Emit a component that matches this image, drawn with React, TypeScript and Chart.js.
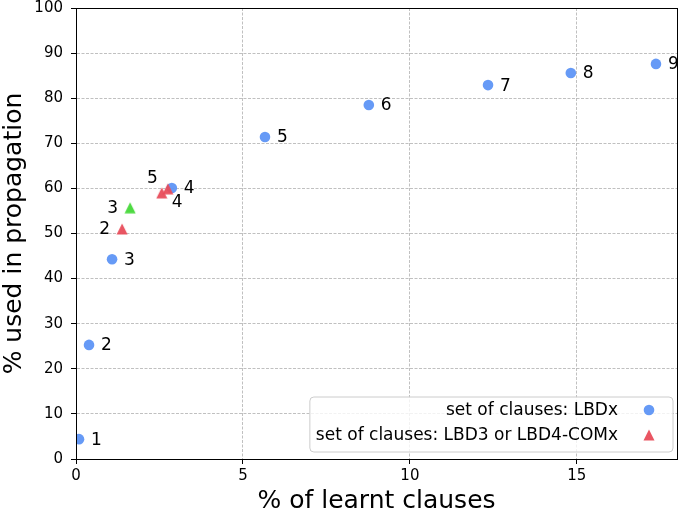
import React, { useEffect, useRef } from "react";
import { Chart, registerables } from "chart.js";

Chart.register(...registerables);

// ---- data ----
const lbdX = [0.09, 0.39, 1.08, 2.87, 5.66, 8.77, 12.34, 14.82, 17.37];
const lbdY = [4.4, 25.3, 44.3, 60.1, 71.4, 78.5, 82.9, 85.6, 87.6];
const lbdLabels = ["1", "2", "3", "4", "5", "6", "7", "8", "9"];

const comX = [1.38, 2.57, 2.75];
const comY = [51.0, 59.0, 59.9];
const comLabels = ["2", "5", "4"];

const lbd3X = [1.62];
const lbd3Y = [55.7];
const lbd3Labels = ["3"];

const xTicks = [0, 5, 10, 15];
const yTicks = [0, 10, 20, 30, 40, 50, 60, 70, 80, 90, 100];

const legendLbd = "set of clauses: LBDx";
const legendCom = "set of clauses: LBD3 or LBD4-COMx";
const xTitle = "% of learnt clauses";
const yTitle = "% used in propagation";

// ---- styles ----
const BLUE = "rgba(94,149,245,0.95)";
const RED = "rgba(232,76,90,0.95)";
const GREEN = "rgba(68,216,56,0.95)";
const FONT = "'DejaVu Sans', sans-serif";

const placements: Record<string, string[]> = {
  lbd: ["right", "right", "right", "right", "right", "right", "right", "right", "right"],
  com: ["left", "upleft", "downright"],
  lbd3: ["left"],
};

function triangleCanvas(color: string, size: number) {
  const c = document.createElement("canvas");
  c.width = size;
  c.height = size;
  const ctx = c.getContext("2d")!;
  ctx.fillStyle = color;
  ctx.beginPath();
  ctx.moveTo(size / 2, 0.5);
  ctx.lineTo(size - 0.5, size - 0.5);
  ctx.lineTo(0.5, size - 0.5);
  ctx.closePath();
  ctx.fill();
  return c;
}

const pointLabelPlugin = {
  id: "pointLabels",
  afterDatasetsDraw(chart: any) {
    const ctx = chart.ctx;
    ctx.save();
    ctx.font = `17px ${FONT}`;
    ctx.fillStyle = "#000";
    ctx.textBaseline = "middle";
    chart.data.datasets.forEach((ds: any, di: number) => {
      const meta = chart.getDatasetMeta(di);
      const pl = placements[ds.key] || [];
      (ds.pointLabels || []).forEach((t: string, i: number) => {
        const el = meta.data[i];
        if (!el) return;
        const p = pl[i] || "right";
        let dx = 12, dy = 1, align: CanvasTextAlign = "left";
        if (p === "left") { dx = -12; align = "right"; }
        else if (p === "upleft") { dx = -4; dy = -14; align = "right"; }
        else if (p === "downright") { dx = 4; dy = 14; align = "left"; }
        ctx.textAlign = align;
        ctx.fillText(t, el.x + dx, el.y + dy);
      });
    });
    ctx.restore();
  },
};

const framePlugin = {
  id: "frameAndLegend",
  afterDraw(chart: any) {
    const ctx = chart.ctx;
    const a = chart.chartArea;
    ctx.save();
    // frame
    ctx.strokeStyle = "#000";
    ctx.lineWidth = 1;
    ctx.strokeRect(Math.round(a.left) + 0.5, Math.round(a.top) + 0.5, Math.round(a.right - a.left), Math.round(a.bottom - a.top));

    // legend
    ctx.font = `17px ${FONT}`;
    const w = Math.max(ctx.measureText(legendLbd).width, ctx.measureText(legendCom).width);
    const boxW = 6 + w + 55;
    const boxH = 55;
    const right = a.right - 4;
    const bottom = a.bottom - 7;
    const left = right - boxW;
    const top = bottom - boxH;
    const r = 4;
    ctx.beginPath();
    ctx.moveTo(left + r, top);
    ctx.lineTo(right - r, top);
    ctx.arcTo(right, top, right, top + r, r);
    ctx.lineTo(right, bottom - r);
    ctx.arcTo(right, bottom, right - r, bottom, r);
    ctx.lineTo(left + r, bottom);
    ctx.arcTo(left, bottom, left, bottom - r, r);
    ctx.lineTo(left, top + r);
    ctx.arcTo(left, top, left + r, top, r);
    ctx.closePath();
    ctx.fillStyle = "rgba(255,255,255,0.8)";
    ctx.fill();
    ctx.strokeStyle = "#cccccc";
    ctx.lineWidth = 1;
    ctx.stroke();

    const textRight = right - 55;
    const markerX = right - 24;
    const row1 = top + 13;
    const row2 = top + 38;
    ctx.fillStyle = "#000";
    ctx.textAlign = "right";
    ctx.textBaseline = "middle";
    ctx.fillText(legendLbd, textRight, row1 + 1);
    ctx.fillText(legendCom, textRight, row2 + 1);
    ctx.fillStyle = BLUE;
    ctx.beginPath();
    ctx.arc(markerX, row1, 5.3, 0, Math.PI * 2);
    ctx.fill();
    ctx.fillStyle = RED;
    ctx.beginPath();
    ctx.moveTo(markerX, row2 - 5.5);
    ctx.lineTo(markerX + 5.5, row2 + 5.5);
    ctx.lineTo(markerX - 5.5, row2 + 5.5);
    ctx.closePath();
    ctx.fill();
    ctx.restore();
  },
};

export default function App() {
  const ref = useRef<HTMLCanvasElement | null>(null);

  useEffect(() => {
    if (!ref.current) return;
    const redTri = triangleCanvas(RED, 12);
    const greenTri = triangleCanvas(GREEN, 12);
    const toPts = (xs: number[], ys: number[]) => xs.map((x, i) => ({ x, y: ys[i] }));
    const gridCommon = {
      color: "#b0b0b0",
      lineWidth: 0.8,
      tickColor: "#000",
      tickLength: 5,
      tickWidth: 1,
      tickBorderDash: [],
    };
    const chart = new Chart(ref.current, {
      type: "scatter",
      data: {
        datasets: [
          {
            key: "lbd",
            label: legendLbd,
            data: toPts(lbdX, lbdY),
            pointLabels: lbdLabels,
            backgroundColor: BLUE,
            borderWidth: 0,
            pointRadius: 5.3,
            pointStyle: "circle",
            order: 3,
          } as any,
          {
            key: "com",
            label: legendCom,
            data: toPts(comX, comY),
            pointLabels: comLabels,
            backgroundColor: RED,
            borderWidth: 0,
            pointRadius: 6,
            pointStyle: redTri,
            order: 2,
          } as any,
          {
            key: "lbd3",
            label: "LBD3",
            data: toPts(lbd3X, lbd3Y),
            pointLabels: lbd3Labels,
            backgroundColor: GREEN,
            borderWidth: 0,
            pointRadius: 6,
            pointStyle: greenTri,
            order: 1,
          } as any,
        ],
      },
      options: {
        animation: false,
        responsive: false,
        devicePixelRatio: 1,
        layout: { padding: { left: 0, right: 8, top: 8, bottom: 0 } },
        plugins: {
          legend: { display: false },
          tooltip: { enabled: false },
        },
        scales: {
          x: {
            type: "linear",
            min: 0,
            max: 18,
            afterBuildTicks: (s: any) => {
              s.ticks = xTicks.map((v) => ({ value: v }));
            },
            afterFit: (s: any) => {
              s.height = 55;
              s.paddingLeft = 0;
              s.paddingRight = 0;
            },
            grid: gridCommon,
            border: { display: true, color: "#000", width: 1, dash: [3, 1.5] },
            ticks: {
              font: { family: FONT, size: 15 },
              color: "#000",
              padding: 3,
              maxRotation: 0,
            },
            title: {
              display: true,
              text: xTitle,
              font: { family: FONT, size: 25, lineHeight: 1 },
              color: "#000",
              padding: { top: 0, bottom: 0 },
            },
          },
          y: {
            type: "linear",
            min: 0,
            max: 100,
            afterBuildTicks: (s: any) => {
              s.ticks = yTicks.map((v) => ({ value: v }));
            },
            afterFit: (s: any) => {
              s.width = 76;
              s.paddingTop = 0;
              s.paddingBottom = 0;
            },
            grid: gridCommon,
            border: { display: true, color: "#000", width: 1, dash: [3, 1.5] },
            ticks: {
              font: { family: FONT, size: 15 },
              color: "#000",
              padding: 8,
            },
            title: {
              display: true,
              text: yTitle,
              font: { family: FONT, size: 25, lineHeight: 1 },
              color: "#000",
              padding: { top: 2, bottom: 0 },
            },
          },
        },
      } as any,
      plugins: [pointLabelPlugin, framePlugin],
    });
    return () => chart.destroy();
  }, []);

  return (
    <div style={{ position: "absolute", left: 0, top: 0, width: 685, height: 514, background: "#fff" }}>
      <canvas ref={ref} width={685} height={514} />
    </div>
  );
}
